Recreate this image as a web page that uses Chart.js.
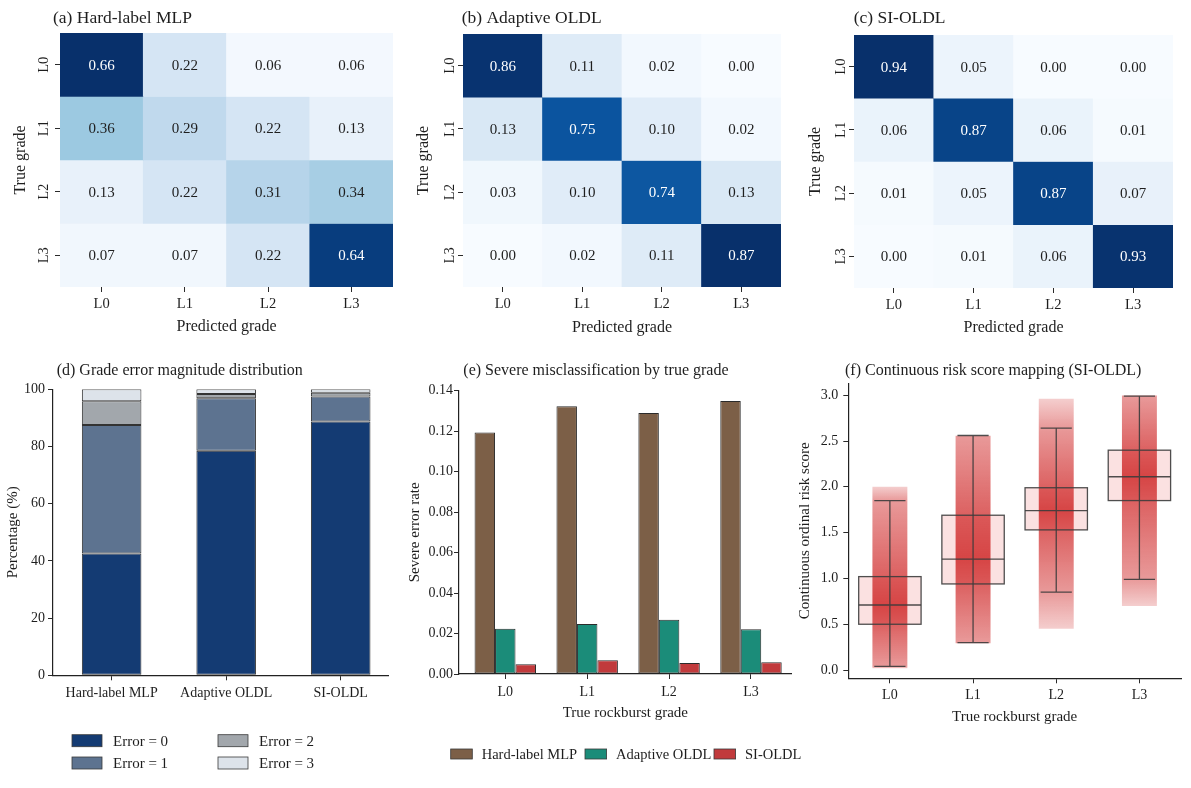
<!DOCTYPE html>
<html>
<head>
<meta charset="utf-8">
<title>Rockburst grade evaluation</title>
<script src="https://cdn.jsdelivr.net/npm/chart.js@4.4.1/dist/chart.umd.min.js"></script>
<style>
	html, body { margin: 0; padding: 0; background: #ffffff; }
	body { position: relative; width: 1191px; height: 788px; overflow: hidden; }
	canvas { position: absolute; }
</style>
</head>
<body>
<canvas id="cmHard" width="400" height="345" style="left:0px;top:0px"></canvas>
<canvas id="cmAdaptive" width="391" height="345" style="left:400px;top:0px"></canvas>
<canvas id="cmSi" width="400" height="345" style="left:791px;top:0px"></canvas>
<canvas id="errorCanvas" width="400" height="438" style="left:0px;top:350px"></canvas>
<canvas id="scoreCanvas" width="401" height="438" style="left:790px;top:350px"></canvas>
<canvas id="severeCanvas" width="410" height="438" style="left:395px;top:350px"></canvas>
<script>
const grades = ["L0", "L1", "L2", "L3"];
const models = ["Hard-label MLP", "Adaptive OLDL", "SI-OLDL"];

// confusion matrices: rows = true grade, columns = predicted grade
const cmHardLabel = [
	[0.66, 0.22, 0.06, 0.06],
	[0.36, 0.29, 0.22, 0.13],
	[0.13, 0.22, 0.31, 0.34],
	[0.07, 0.07, 0.22, 0.64],
];
const cmAdaptive = [
	[0.86, 0.11, 0.02, 0.0],
	[0.13, 0.75, 0.1, 0.02],
	[0.03, 0.1, 0.74, 0.13],
	[0.0, 0.02, 0.11, 0.87],
];
const cmSiOldl = [
	[0.94, 0.05, 0.0, 0.0],
	[0.06, 0.87, 0.06, 0.01],
	[0.01, 0.05, 0.87, 0.07],
	[0.0, 0.01, 0.06, 0.93],
];

// (d) share of samples by grade error magnitude, %
const errorLabels = ["Error = 0", "Error = 1", "Error = 2", "Error = 3"];
const error0 = [42.6, 78.5, 88.7];
const error1 = [44.9, 18.4, 8.8];
const error2 = [8.3, 1.5, 1.3];
const error3 = [4.2, 1.6, 1.2];
const percentTicks = [0, 20, 40, 60, 80, 100];

// (e) severe misclassification rate per true grade
const severeHard = [0.1194, 0.1323, 0.129, 0.1349];
const severeAdaptive = [0.0224, 0.0247, 0.0268, 0.0221];
const severeSi = [0.0048, 0.0068, 0.0054, 0.0058];
const severeTicks = [0, 0.02, 0.04, 0.06, 0.08, 0.1, 0.12, 0.14];

// (f) continuous risk score (SI-OLDL) per true grade
const scoreLow = [0.04, 0.3, 0.85, 0.99];
const scoreQ1 = [0.5, 0.94, 1.53, 1.85];
const scoreMedian = [0.71, 1.21, 1.74, 2.11];
const scoreQ3 = [1.02, 1.69, 1.99, 2.4];
const scoreHigh = [1.85, 2.56, 2.64, 2.99];
const pointMin = [0.02, 0.29, 0.45, 0.7];
const pointMax = [2.0, 2.56, 2.96, 3.0];
const scoreTicks = [0, 0.5, 1, 1.5, 2, 2.5, 3];

const FONT = "'Liberation Serif', 'Times New Roman', serif";
const INK = "#1e1e1e";
const errorColors = ["#143b73", "#5d7390", "#a2a7ac", "#dde3ea"];
const severeColors = ["#7c5f47", "#1b8c79", "#c13a3c"];
const BLUES = [
	[247, 251, 255], [222, 235, 247], [198, 219, 239], [158, 202, 225],
	[107, 174, 214], [66, 146, 198], [33, 113, 181], [8, 81, 156], [8, 48, 107],
];

Chart.defaults.font.family = FONT;
Chart.defaults.color = INK;
Chart.defaults.animation = false;
Chart.defaults.events = [];
Chart.defaults.plugins.legend.display = false;
Chart.defaults.plugins.tooltip.enabled = false;

function blues(t) {
	t = Math.min(1, Math.max(0, t));
	const p = t * (BLUES.length - 1);
	const i = Math.min(Math.floor(p), BLUES.length - 2);
	const f = p - i;
	const c = BLUES[i].map((v, k) => Math.round(v + (BLUES[i + 1][k] - v) * f));
	return `rgb(${c.join(",")})`;
}

const fixedTicks = (values) => (scale) => {
	scale.ticks = values.map((v) => ({ value: v }));
};

function tickGrid() {
	return { drawOnChartArea: false, drawTicks: true, tickLength: 5, tickColor: "#2a2a2a", offset: false };
}

const axisLine = { display: true, color: "#222222", width: 1.2 };

function panelTitle(text, x, y, size) {
	return {
		id: "panelTitle",
		afterDraw(chart) {
			const ctx = chart.ctx;
			ctx.save();
			ctx.font = `${size}px ${FONT}`;
			ctx.fillStyle = INK;
			ctx.textBaseline = "middle";
			ctx.fillText(text, x, y);
			ctx.restore();
		},
	};
}

function boxLegend(slots, boxW, boxH, gap, fontSize) {
	return {
		id: "boxLegend",
		afterDraw(chart) {
			const ctx = chart.ctx;
			ctx.save();
			ctx.font = `${fontSize}px ${FONT}`;
			ctx.textBaseline = "middle";
			chart.data.datasets.forEach((ds, k) => {
				const [x, y] = slots[k];
				ctx.fillStyle = ds.backgroundColor;
				ctx.fillRect(x, y - boxH / 2, boxW, boxH);
				ctx.strokeStyle = "#3a3a3a";
				ctx.lineWidth = 0.8;
				ctx.strokeRect(x, y - boxH / 2, boxW, boxH);
				ctx.fillStyle = INK;
				ctx.fillText(ds.label, x + boxW + gap, y + 1);
			});
			ctx.restore();
		},
	};
}

// writes the value in the middle of every heatmap cell
const cellLabels = {
	id: "cellLabels",
	afterDatasetsDraw(chart) {
		const ctx = chart.ctx;
		ctx.save();
		ctx.font = `15px ${FONT}`;
		ctx.textAlign = "center";
		ctx.textBaseline = "middle";
		chart.data.datasets.forEach((ds, i) => {
			chart.getDatasetMeta(i).data.forEach((cell, j) => {
				ctx.fillStyle = ds.textColors[j];
				ctx.fillText(ds.cellValues[j].toFixed(2), cell.x, (cell.y + cell.base) / 2 + 1);
			});
		});
		ctx.restore();
	},
};

function createConfusionChart(canvasId, matrix, layout) {
	const vmax = Math.max(...matrix.flat());
	const shade = (v) => Math.pow(v / vmax, layout.gamma);
	const datasets = matrix.map((row, r) => ({
		label: grades[r],
		data: row.map(() => [r, r + 1]),
		cellValues: row,
		backgroundColor: row.map((v) => blues(shade(v))),
		textColors: row.map((v) => (shade(v) > 0.5 ? "#ffffff" : INK)),
		borderWidth: 0,
		grouped: false,
		barPercentage: 1,
		categoryPercentage: 1,
	}));

	new Chart(document.getElementById(canvasId), {
		type: "bar",
		data: { labels: grades, datasets: datasets },
		options: {
			responsive: false,
			layout: { padding: { left: 0, top: layout.padTop, right: layout.padRight, bottom: 0 } },
			scales: {
				x: {
					type: "category",
					grid: tickGrid(),
					border: { display: false },
					ticks: { font: { size: 14.5 }, padding: 3, maxRotation: 0 },
					title: { display: true, text: "Predicted grade", font: { size: 16 }, padding: { top: 0, bottom: layout.xTitlePad } },
					afterFit: (s) => { s.height = layout.xHeight; },
				},
				y: {
					type: "linear",
					min: 0,
					max: 4,
					reverse: true,
					afterBuildTicks: fixedTicks(grades.map((g, i) => i + 0.5)),
					grid: tickGrid(),
					border: { display: false },
					ticks: {
						font: { size: 14.5 },
						callback: (v) => grades[Math.floor(v)],
						minRotation: 90,
						maxRotation: 90,
						crossAlign: "center",
						padding: layout.yTickPad,
					},
					title: { display: true, text: "True grade", font: { size: 16 }, padding: { top: layout.yTitlePad, bottom: 0 } },
					afterFit: (s) => { s.width = layout.yWidth; },
				},
			},
		},
		plugins: [cellLabels, panelTitle(layout.title, layout.titleX, 18, 17.5)],
	});
}

function createErrorChart() {
	const series = [error0, error1, error2, error3];
	new Chart(document.getElementById("errorCanvas"), {
		type: "bar",
		data: {
			datasets: series.map((vals, k) => ({
				label: errorLabels[k],
				data: vals.map((v, i) => ({ x: i, y: v })),
				backgroundColor: errorColors[k],
				borderColor: "#333333",
				borderWidth: 1,
				borderSkipped: false,
				barPercentage: 0.52,
				categoryPercentage: 1,
			})),
		},
		options: {
			responsive: false,
			layout: { padding: { left: 0, top: 39.3, right: 12, bottom: 72.7 } },
			scales: {
				x: {
					type: "linear",
					stacked: true,
					offset: false,
					min: -0.512,
					max: 2.413,
					afterBuildTicks: fixedTicks([0, 1, 2]),
					ticks: { callback: (v) => models[v], font: { size: 14 }, padding: 5, maxRotation: 0, autoSkip: false },
					grid: tickGrid(),
					border: axisLine,
					afterFit: (s) => { s.height = 40; },
				},
				y: {
					stacked: true,
					min: 0,
					max: 100,
					afterBuildTicks: fixedTicks(percentTicks),
					ticks: { font: { size: 14 }, padding: 3 },
					grid: tickGrid(),
					border: axisLine,
					title: { display: true, text: "Percentage (%)", font: { size: 15 }, padding: { top: 4, bottom: 0 } },
					afterFit: (s) => { s.width = 53; },
				},
			},
		},
		plugins: [
			panelTitle("(d) Grade error magnitude distribution", 56.7, 20.8, 16),
			boxLegend([[72, 390.7], [72, 413], [218, 390.7], [218, 413]], 30, 12, 11, 15),
		],
	});
}

function createSevereChart() {
	const series = [severeHard, severeAdaptive, severeSi];
	new Chart(document.getElementById("severeCanvas"), {
		type: "bar",
		data: {
			datasets: series.map((vals, k) => ({
				label: models[k],
				data: vals.map((v, i) => ({ x: i, y: v })),
				backgroundColor: severeColors[k],
				borderColor: "#2b2b2b",
				borderWidth: 1,
				borderSkipped: false,
				barPercentage: 1,
				categoryPercentage: 0.75,
			})),
		},
		options: {
			responsive: false,
			layout: { padding: { left: 0, top: 40.7, right: 13.3, bottom: 56 } },
			scales: {
				x: {
					type: "linear",
					offset: false,
					min: -0.565,
					max: 3.497,
					afterBuildTicks: fixedTicks([0, 1, 2, 3]),
					ticks: { callback: (v) => grades[v], font: { size: 14 }, padding: 5, maxRotation: 0, autoSkip: false },
					grid: tickGrid(),
					border: axisLine,
					title: { display: true, text: "True rockburst grade", font: { size: 15 }, padding: { top: 0, bottom: 10 } },
					afterFit: (s) => { s.height = 58; },
				},
				y: {
					min: 0,
					max: 0.14,
					afterBuildTicks: fixedTicks(severeTicks),
					ticks: { callback: (v) => v.toFixed(2), font: { size: 14 }, padding: 1 },
					grid: tickGrid(),
					border: axisLine,
					title: { display: true, text: "Severe error rate", font: { size: 15 }, padding: { top: 11, bottom: 0 } },
					afterFit: (s) => { s.width = 64; },
				},
			},
		},
		plugins: [
			panelTitle("(e) Severe misclassification by true grade", 68.3, 20.8, 16),
			boxLegend([[55.7, 404], [190, 404], [319, 404]], 21.6, 10, 9.4, 14.5),
		],
	});
}

// red band standing in for the jittered sample cloud, densest around the box
function cloudGradient(chart, i) {
	if (!chart.chartArea) {
		return "rgba(205,30,30,0.5)";
	}
	const y = chart.scales.y;
	const top = y.getPixelForValue(pointMax[i]);
	const bottom = y.getPixelForValue(pointMin[i]);
	const g = chart.ctx.createLinearGradient(0, top, 0, bottom);
	const stop = (v) => Math.min(1, Math.max(0, (y.getPixelForValue(v) - top) / (bottom - top)));
	g.addColorStop(0, "rgba(205,30,30,0.22)");
	g.addColorStop(stop(scoreHigh[i]), "rgba(205,30,30,0.45)");
	g.addColorStop(stop(scoreQ3[i]), "rgba(205,30,30,0.7)");
	g.addColorStop(stop(scoreMedian[i]), "rgba(205,30,30,0.8)");
	g.addColorStop(stop(scoreQ1[i]), "rgba(205,30,30,0.7)");
	g.addColorStop(stop(scoreLow[i]), "rgba(205,30,30,0.45)");
	g.addColorStop(1, "rgba(205,30,30,0.22)");
	return g;
}

// whiskers, caps, medians and box outlines on top of the bars
const boxWhiskers = {
	id: "boxWhiskers",
	afterDatasetsDraw(chart) {
		const ctx = chart.ctx;
		const y = chart.scales.y;
		const boxes = chart.getDatasetMeta(0).data;
		ctx.save();
		ctx.strokeStyle = "rgba(60,60,60,0.9)";
		ctx.lineWidth = 1.3;
		boxes.forEach((box, i) => {
			const cx = box.x;
			const half = box.width / 2;
			const cap = box.width / 4;
			const yLow = y.getPixelForValue(scoreLow[i]);
			const yHigh = y.getPixelForValue(scoreHigh[i]);
			const yQ1 = y.getPixelForValue(scoreQ1[i]);
			const yQ3 = y.getPixelForValue(scoreQ3[i]);
			const yMed = y.getPixelForValue(scoreMedian[i]);
			ctx.beginPath();
			ctx.moveTo(cx, yHigh);
			ctx.lineTo(cx, yLow);
			ctx.moveTo(cx - cap, yHigh);
			ctx.lineTo(cx + cap, yHigh);
			ctx.moveTo(cx - cap, yLow);
			ctx.lineTo(cx + cap, yLow);
			ctx.moveTo(cx - half, yMed);
			ctx.lineTo(cx + half, yMed);
			ctx.stroke();
			ctx.strokeRect(cx - half, yQ3, half * 2, yQ1 - yQ3);
		});
		ctx.restore();
	},
};

function createScoreChart() {
	new Chart(document.getElementById("scoreCanvas"), {
		type: "bar",
		data: {
			labels: grades,
			datasets: [
				{
					label: "IQR",
					data: scoreQ1.map((q, i) => [q, scoreQ3[i]]),
					backgroundColor: "rgba(235,120,120,0.22)",
					borderWidth: 0,
					grouped: false,
					barPercentage: 0.75,
					categoryPercentage: 1,
					order: 2,
				},
				{
					label: "Samples",
					data: pointMin.map((v, i) => [v, pointMax[i]]),
					backgroundColor: (c) => cloudGradient(c.chart, c.dataIndex),
					borderWidth: 0,
					grouped: false,
					barPercentage: 0.42,
					categoryPercentage: 1,
					order: 1,
				},
			],
		},
		options: {
			responsive: false,
			layout: { padding: { left: 0, top: 33.3, right: 10, bottom: 51.7 } },
			scales: {
				x: {
					type: "category",
					offset: true,
					grid: tickGrid(),
					border: axisLine,
					ticks: { font: { size: 14 }, padding: 4, maxRotation: 0 },
					title: { display: true, text: "True rockburst grade", font: { size: 15 }, padding: { top: 0, bottom: 10.6 } },
					afterFit: (s) => { s.height = 58; },
				},
				y: {
					min: -0.09,
					max: 3.13,
					afterBuildTicks: fixedTicks(scoreTicks),
					ticks: { callback: (v) => v.toFixed(1), font: { size: 14 }, padding: 5 },
					grid: tickGrid(),
					border: axisLine,
					title: { display: true, text: "Continuous ordinal risk score", font: { size: 15 }, padding: { top: 6, bottom: 0 } },
					afterFit: (s) => { s.width = 58.3; },
				},
			},
		},
		plugins: [boxWhiskers, panelTitle("(f) Continuous risk score mapping (SI-OLDL)", 55, 20.8, 16)],
	});
}

createConfusionChart("cmHard", cmHardLabel, {
	gamma: 1.6, title: "(a) Hard-label MLP", titleX: 53, yWidth: 60, padTop: 33, padRight: 7,
	xHeight: 58, yTickPad: 3, yTitlePad: 11, xTitlePad: 9,
});
createConfusionChart("cmAdaptive", cmAdaptive, {
	gamma: 1.0, title: "(b) Adaptive OLDL", titleX: 61.7, yWidth: 63, padTop: 34, padRight: 10,
	xHeight: 58, yTickPad: 0, yTitlePad: 14, xTitlePad: 8,
});
createConfusionChart("cmSi", cmSiOldl, {
	gamma: 1.0, title: "(c) SI-OLDL", titleX: 62.7, yWidth: 63, padTop: 35, padRight: 18,
	xHeight: 57, yTickPad: 0, yTitlePad: 15, xTitlePad: 8,
});
createErrorChart();
createSevereChart();
createScoreChart();
</script>
</body>
</html>
